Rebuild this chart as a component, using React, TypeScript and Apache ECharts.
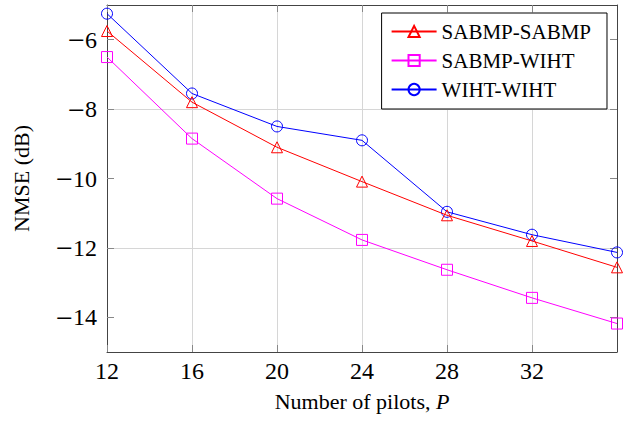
import React, { useEffect, useRef } from "react";
import * as echarts from "echarts";

const pilots = [12, 16, 20, 24, 28, 32, 36];
const sabmpSabmp = [-5.75, -7.8, -9.1, -10.09, -11.06, -11.8, -12.56];
const sabmpWiht = [-6.5, -8.85, -10.58, -11.77, -12.63, -13.44, -14.18];
const wihtWiht = [-5.25, -7.55, -8.5, -8.9, -10.96, -11.62, -12.13];
const yTicks = [-14, -12, -10, -8, -6];
const xTicks = [12, 16, 20, 24, 28, 32];

const seriesNames = ["SABMP-SABMP", "SABMP-WIHT", "WIHT-WIHT"];
const seriesColors = ["#ff0000", "#ff00ff", "#0000ff"];
const seriesSymbols = ["triangle", "rect", "circle"];
const seriesValues = [sabmpSabmp, sabmpWiht, wihtWiht];

const FONT = "'Liberation Serif', 'Times New Roman', serif";

function fmt(v: number): string {
  return v < 0 ? "{m|\u2212}" + Math.abs(v) : String(v);
}

export default function App() {
  const ref = useRef<HTMLDivElement>(null);
  useEffect(() => {
    document.body.style.margin = "0";
    if (!ref.current) return;
    const chart = echarts.init(ref.current, undefined, { renderer: "svg" });
    const tickStyle = { show: true, inside: true, length: 7, lineStyle: { color: "#888", width: 1 } };
    const option: any = {
      animation: false,
      backgroundColor: "#ffffff",
      textStyle: { fontFamily: FONT, color: "#000" },
      grid: { left: 107, right: 7, top: 5, bottom: 70, containLabel: false },
      legend: {
        orient: "vertical",
        right: 17,
        top: 13,
        padding: [8, 16, 9, 9],
        itemWidth: 45,
        itemHeight: 14,
        itemGap: 8,
        backgroundColor: "#ffffff",
        borderColor: "#000000",
        borderWidth: 1,
        borderRadius: 0,
        textStyle: { fontFamily: FONT, fontSize: 21, color: "#000" },
        data: seriesNames,
      },
      xAxis: [
        {
          type: "value",
          min: 12,
          max: 36,
          interval: 4,
          name: "Number of pilots, {i|P}",
          nameLocation: "middle",
          nameGap: 38,
          nameTextStyle: {
            fontFamily: FONT,
            fontSize: 22,
            color: "#000",
            rich: { i: { fontFamily: FONT, fontSize: 22, fontStyle: "italic", color: "#000" } },
          },
          axisLine: { show: true, lineStyle: { color: "#444", width: 1 } },
          axisTick: { ...tickStyle, customValues: xTicks },
          axisLabel: {
            customValues: xTicks,
            formatter: (v: number) => (v >= 36 ? "" : fmt(v)),
            fontFamily: FONT,
            fontSize: 24,
            color: "#000",
            margin: 7,
          },
          splitLine: { show: true, lineStyle: { color: "#d6d6d6", width: 1 } },
        },
        {
          type: "value",
          position: "top",
          min: 12,
          max: 36,
          interval: 4,
          axisLine: { show: true, lineStyle: { color: "#444", width: 1 } },
          axisTick: { ...tickStyle, customValues: xTicks },
          axisLabel: { show: false },
          splitLine: { show: false },
        },
      ],
      yAxis: [
        {
          type: "value",
          min: -15,
          max: -5,
          interval: 1,
          name: "NMSE (dB)",
          nameLocation: "middle",
          nameRotate: 90,
          nameGap: 75,
          nameTextStyle: { fontFamily: FONT, fontSize: 22, color: "#000" },
          axisLine: { show: true, lineStyle: { color: "#444", width: 1 } },
          axisTick: { ...tickStyle, customValues: yTicks },
          axisLabel: {
            customValues: yTicks,
            formatter: (v: number) => (Math.abs(v) % 2 === 0 ? fmt(v) : ""),
            fontFamily: FONT,
            fontSize: 24,
            color: "#000",
            margin: 10,
            rich: { m: { fontFamily: FONT, fontSize: 30, color: "#000" } },
          },
          splitLine: {
            show: true,
            lineStyle: { color: ["transparent", "#d6d6d6"], width: 1 },
          },
        },
        {
          type: "value",
          position: "right",
          min: -15,
          max: -5,
          interval: 1,
          axisLine: { show: true, lineStyle: { color: "#444", width: 1 } },
          axisTick: { ...tickStyle, customValues: yTicks },
          axisLabel: { show: false },
          splitLine: { show: false },
        },
      ],
      series: seriesNames.map((name, i) => ({
        name,
        type: "line",
        xAxisIndex: 0,
        yAxisIndex: 0,
        data: pilots.map((p, j) => [p, seriesValues[i][j]]),
        symbol: seriesSymbols[i],
        symbolSize: 11,
        showAllSymbol: true,
        lineStyle: { color: seriesColors[i], width: 1 },
        itemStyle: { color: "transparent", borderColor: seriesColors[i], borderWidth: 1 },
        emphasis: { disabled: true },
        z: 3 + (2 - i),
      })),
    };
    chart.setOption(option);
    return () => chart.dispose();
  }, []);
  return <div ref={ref} style={{ width: 624, height: 422 }} />;
}
